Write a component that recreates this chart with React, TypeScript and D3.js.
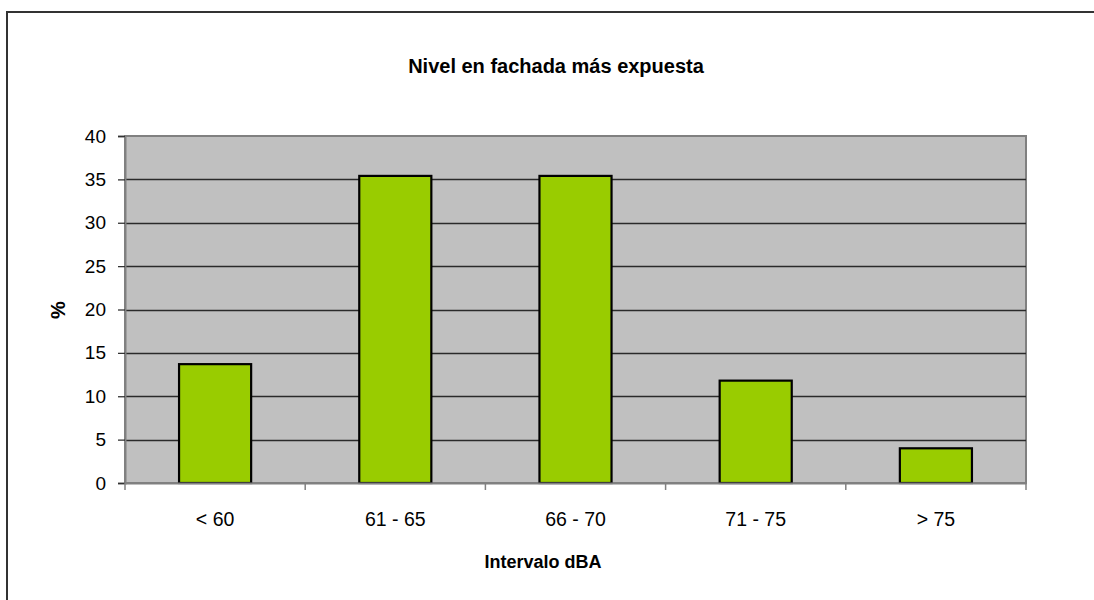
import { useEffect, useRef } from "react"
import * as d3 from "d3"

const categories = ["< 60", "61 - 65", "66 - 70", "71 - 75", "> 75"]
const percentages = [13.7, 35.4, 35.4, 11.8, 4.0]
const yTicks = [0, 5, 10, 15, 20, 25, 30, 35, 40]

const title = "Nivel en fachada más expuesta"
const xTitle = "Intervalo dBA"
const yTitle = "%"

export default function App() {
  const svgRef = useRef<SVGSVGElement>(null)

  useEffect(() => {
    if (!svgRef.current) return
    const svg = d3.select(svgRef.current)
    svg.selectAll("*").remove()

    const width = 1094
    const height = 600
    const margin = { top: 136, right: 68, bottom: 117, left: 125 }
    const innerWidth = width - margin.left - margin.right
    const innerHeight = height - margin.top - margin.bottom
    const font = "'Liberation Sans', Arial, sans-serif"

    // Outer chart border (bottom and right run off the page)
    svg
      .append("rect")
      .attr("x", 7)
      .attr("y", 12)
      .attr("width", 1100)
      .attr("height", 620)
      .attr("fill", "white")
      .attr("stroke", "#333")
      .attr("stroke-width", 2)

    const x = d3
      .scaleBand()
      .domain(categories)
      .range([0, innerWidth])
      .paddingInner(0.6)
      .paddingOuter(0.3)

    const y = d3.scaleLinear().domain([0, 40]).range([innerHeight, 0])

    const g = svg.append("g").attr("transform", `translate(${margin.left},${margin.top})`)

    // Plot area
    g.append("rect")
      .attr("width", innerWidth)
      .attr("height", innerHeight)
      .attr("fill", "#c0c0c0")
      .attr("stroke", "#808080")
      .attr("stroke-width", 2)

    // Gridlines
    g.selectAll(".grid")
      .data(yTicks.filter((t) => t > 0 && t < 40))
      .enter()
      .append("line")
      .attr("x1", 0)
      .attr("x2", innerWidth)
      .attr("y1", (d) => Math.round(y(d)) + 0.5)
      .attr("y2", (d) => Math.round(y(d)) + 0.5)
      .attr("stroke", "#2a2a2a")
      .attr("stroke-width", 1.3)

    // Bars
    g.selectAll(".bar")
      .data(percentages)
      .enter()
      .append("rect")
      .attr("x", (_, i) => x(categories[i]) || 0)
      .attr("y", (d) => y(d))
      .attr("width", x.bandwidth())
      .attr("height", (d) => innerHeight - y(d))
      .attr("fill", "#99cc00")
      .attr("stroke", "#000")
      .attr("stroke-width", 2.2)

    // Y axis
    const yAxis = g
      .append("g")
      .call(d3.axisLeft(y).tickValues(yTicks).tickSize(7).tickPadding(12))
    yAxis.select(".domain").attr("stroke", "#808080").attr("stroke-width", 2)
    yAxis.selectAll(".tick line").attr("stroke", "#333").attr("stroke-width", 1.3)
    yAxis
      .selectAll("text")
      .attr("font-family", font)
      .attr("font-size", "19px")
      .attr("fill", "#000")

    // X axis: ticks at band boundaries
    const xAxis = g
      .append("g")
      .attr("transform", `translate(0,${innerHeight})`)
      .call(d3.axisBottom(x).tickSize(0).tickPadding(29))
    xAxis.select(".domain").attr("stroke", "#808080").attr("stroke-width", 2)
    xAxis
      .selectAll("text")
      .attr("font-family", font)
      .attr("font-size", "19.5px")
      .attr("fill", "#000")

    const boundaries = d3.range(categories.length + 1).map((i) => (innerWidth / categories.length) * i)
    g.selectAll(".xtick")
      .data(boundaries)
      .enter()
      .append("line")
      .attr("x1", (d) => d)
      .attr("x2", (d) => d)
      .attr("y1", innerHeight)
      .attr("y2", innerHeight + 7)
      .attr("stroke", "#808080")
      .attr("stroke-width", 1.5)

    // Titles
    svg
      .append("text")
      .attr("x", 556)
      .attr("y", 73)
      .attr("text-anchor", "middle")
      .attr("font-family", font)
      .attr("font-weight", "bold")
      .attr("font-size", "20px")
      .text(title)

    svg
      .append("text")
      .attr("x", 543)
      .attr("y", 568)
      .attr("text-anchor", "middle")
      .attr("font-family", font)
      .attr("font-weight", "bold")
      .attr("font-size", "18px")
      .text(xTitle)

    svg
      .append("text")
      .attr("transform", `translate(65,310) rotate(-90)`)
      .attr("text-anchor", "middle")
      .attr("font-family", font)
      .attr("font-weight", "bold")
      .attr("font-size", "20px")
      .text(yTitle)
  }, [])

  return (
    <div style={{ position: "fixed", left: 0, top: 0 }}>
      <svg ref={svgRef} width={1094} height={600} style={{ display: "block" }} />
    </div>
  )
}
